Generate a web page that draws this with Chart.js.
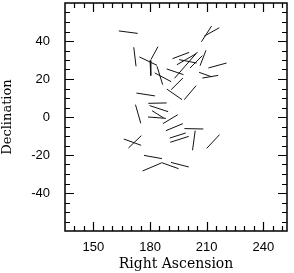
<!DOCTYPE html>
<html>
<head>
<meta charset="utf-8">
<script src="https://cdn.jsdelivr.net/npm/chart.js@4"></script>
<style>
  body { margin: 0; background: #fff; }
  #wrap { width: 294px; height: 273px; }
</style>
</head>
<body>
<div id="wrap"><canvas id="myChart" width="294" height="273"></canvas></div>
<script>
// segment end points (RA, Dec in degrees)
const raStart  = [163.5,171.4,174.4,180.5,180.0,183.7,182.5,188.8,191.9,194.2,193.0,195.4,201.2,206.5,206.0,207.7,210.9,207.2,208.6,188.9,191.2,198.1,172.8,172.3,178.9,179.1,179.8,181.1,186.8,188.4,190.4,190.7,198.2,203.9,210.0,166.1,168.6,176.8,176.1,186.1,191.1]
const decStart = [45.3,36.7,31.6,30.2,29.8,26.7,23.2,25.3,30.7,27.5,20.4,30.2,25.8,27.0,23.5,20.5,25.8,39.6,42.5,14.7,14.4,9.1,12.6,6.5,0,7.2,6.0,3.3,-3.5,-7.2,-11.1,-13.3,-6.1,-7.2,-16.5,-11.6,-16.3,-20.2,-28.4,-24.0,-23.9]
const raEnd    = [173.5,172.6,183.7,184.2,180.4,186.7,191.2,197.7,200.7,204.4,205.1,204.7,207.7,209.6,212.5,216.1,220.5,212.6,216.7,197.0,197.4,204.4,182.6,175.1,188.4,188.8,189.6,187.2,194.7,197.4,198.9,200.5,208.2,202.5,216.8,175.3,175.4,186.3,186.0,195.1,200.5]
const decEnd   = [44.0,26.7,27.2,37.0,21.8,17.0,18.6,22.3,34.0,33.3,34.2,28.4,32.3,35.1,21.2,21.9,28.4,47.9,47.0,9.1,20.5,16.5,11.1,-3.3,-0.7,7.4,2.8,-0.5,1.2,-3.5,-8.4,-10.2,-6.3,-17.5,-9.3,-14.9,-9.8,-21.9,-24.2,-27.2,-26.3]

// axis ticks
const raLabels  = [150,180,210,240]
const decLabels = [-40,-20,0,20,40]
const raMin = 135, raMax = 252.5
const decMin = -60, decMax = 60

const datasets = raStart.map((ra, i) => ({
  data: [{x: ra, y: decStart[i]}, {x: raEnd[i], y: decEnd[i]}],
  showLine: true,
  borderColor: '#111',
  borderWidth: 1,
  pointRadius: 0
}))

// frame + inward ticks on all four sides
const frameTicks = {
  id: 'frameTicks',
  afterDraw(chart) {
    const ctx = chart.ctx
    const a = chart.chartArea
    const xs = chart.scales.x, ys = chart.scales.y
    ctx.save()
    ctx.strokeStyle = '#000'
    ctx.lineWidth = 1.5
    ctx.strokeRect(a.left, a.top, a.right - a.left, a.bottom - a.top)
    ctx.lineWidth = 1.2
    ctx.beginPath()
    for (let v = 140; v <= 250; v += 5) {
      const px = Math.round(xs.getPixelForValue(v)) + 0.5
      const len = v % 30 === 0 ? 9 : 5
      ctx.moveTo(px, a.bottom); ctx.lineTo(px, a.bottom - len)
      ctx.moveTo(px, a.top); ctx.lineTo(px, a.top + len)
    }
    for (let v = -55; v <= 55; v += 5) {
      const py = Math.round(ys.getPixelForValue(v)) + 0.5
      const len = v % 20 === 0 ? 9 : 5
      ctx.moveTo(a.left, py); ctx.lineTo(a.left + len, py)
      ctx.moveTo(a.right, py); ctx.lineTo(a.right - len, py)
    }
    ctx.stroke()
    ctx.restore()
  }
}

new Chart(document.getElementById('myChart'), {
  type: 'scatter',
  data: { datasets: datasets },
  options: {
    responsive: false,
    animation: false,
    layout: { padding: { left: 0, right: 7, top: 3, bottom: 0 } },
    plugins: { legend: { display: false }, tooltip: { enabled: false } },
    scales: {
      x: {
        type: 'linear',
        min: raMin, max: raMax,
        grid: { display: false, drawTicks: false },
        border: { display: false },
        afterBuildTicks: (s) => { s.ticks = raLabels.map(v => ({value: v})) },
        afterFit: (s) => { s.height = 42; s.paddingLeft = 0; s.paddingRight = 0 },
        ticks: { color: '#000', padding: 9, maxRotation: 0, font: { family: 'Liberation Sans', size: 13 } },
        title: { display: true, text: 'Right Ascension', color: '#000', padding: 0,
          font: { family: 'DejaVu Serif', size: 14 } }
      },
      y: {
        type: 'linear',
        min: decMin, max: decMax,
        grid: { display: false, drawTicks: false },
        border: { display: false },
        afterBuildTicks: (s) => { s.ticks = decLabels.map(v => ({value: v})) },
        afterFit: (s) => { s.width = 65; s.paddingTop = 0; s.paddingBottom = 0 },
        ticks: { color: '#000', padding: 15, font: { family: 'Liberation Sans', size: 13 } },
        title: { display: true, text: 'Declination', color: '#000', padding: 0,
          font: { family: 'DejaVu Serif', size: 13 } }
      }
    }
  },
  plugins: [frameTicks]
})
</script>
</body>
</html>
